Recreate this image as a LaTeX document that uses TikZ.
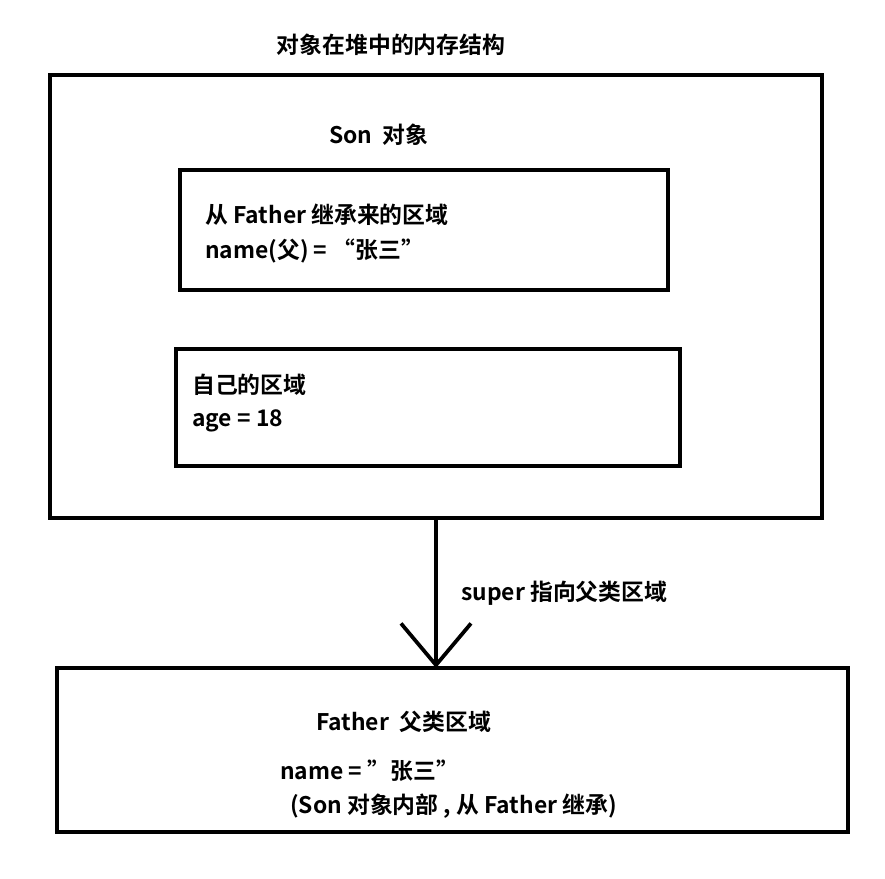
\documentclass[tikz,border=0pt]{standalone}
\usepackage{fontspec}
\setmainfont{Noto Sans CJK SC}[BoldFont={* Bold}]
\usetikzlibrary{positioning}
\usetikzlibrary{arrows.meta}

\tikzset{
    area/.style={draw, line width=3.2pt, outer sep=0pt, inner sep=0pt},
    label/.style={font=\bfseries\fontsize{19.5}{23}\selectfont, inner sep=0pt},
    txt/.style={label, anchor=west}
}

\begin{document}
\begin{tikzpicture}[x=0.03cm, y=-0.03cm]
        \useasboundingbox (0,0) rectangle (885,879);
        \node[label] (title) at (391,45) {对象在堆中的内存结构};

        \node[area, minimum width=772*0.03cm, minimum height=443*0.03cm] (son) at (436,296.5) {};
        \node[label] (sonname) at (379,135) {Son\ \ 对象};

        \node[area, minimum width=488*0.03cm, minimum height=120*0.03cm] (inherited) at (424,230) {};
        \node[txt] (inhtitle) at (205,215) {从 Father 继承来的区域};
        \node[txt] (inhname) at (205,251) {name(父) = “张三”};

        \node[area, minimum width=504*0.03cm, minimum height=117*0.03cm] (own) at (428,407.5) {};
        \node[txt] (owntitle) at (192,385) {自己的区域};
        \node[txt] (ownage) at (192,421) {age = 18};

        \node[area, minimum width=791*0.03cm, minimum height=164*0.03cm] (father) at (452.5,750) {};
        \node[txt] (fatitle) at (316,722) {Father\ \ 父类区域};
        \node[txt] (faname) at (280,771) {name = \symbol{"22}张三\symbol{"22}};
        \node[txt] (fanote) at (290,806) {(Son 对象内部 , 从 Father 继承)};

        \draw[line width=3.2pt, -{Straight Barb[length=1.25cm, width=2.1cm, line width=3.2pt]}]
            (son.south -| 436,0) -- (father.north -| 436,0)
            node[txt, pos=0.5, xshift=0.7cm] (super) {super 指向父类区域};
\end{tikzpicture}
\end{document}
